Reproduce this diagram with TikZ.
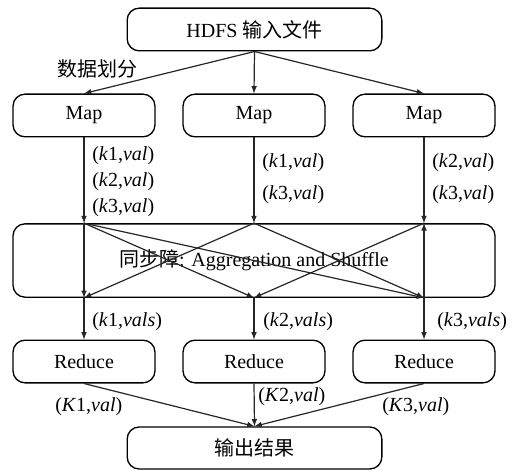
\documentclass[tikz,border=0pt]{standalone}
\usepackage{fontspec}
\setmainfont{Liberation Serif}
\newfontfamily\cjk{Noto Sans CJK SC}
\usepackage{xcolor}
\usepackage{tikz}

\begin{document}
\begin{tikzpicture}[x=0.75pt,y=-0.75pt,font=\fontsize{15}{18}\selectfont]
			\tikzstyle{value} = [inner sep=0pt,anchor=west]
			\tikzstyle{block}=[rectangle,draw,rounded corners=9pt,line width=1pt,minimum width=106.5pt,minimum height=32pt,inner sep=0pt]
			\tikzset{edge/.style = {->,> = latex,draw=black!85,line width=0.9pt}}
			\useasboundingbox (0,0) rectangle (531,470);
			
			\node[block,minimum width=191pt](in) at (254.5,29.5) {HDFS {\cjk 输入文件}};
			\node[block](m1) at (84,115.5) {Map};
			\node[block](m2) at (254,115.5) {Map};
			\node[block](m3) at (424,115.5) {Map};
			\node[block,minimum width=361.5pt,minimum height=55pt](bar) at (254,260.5) {{\cjk 同步障}: Aggregation and Shuffle};
			\node[block](r1) at (84,361.5) {Reduce};
			\node[block](r2) at (254,361.5) {Reduce};
			\node[block](r3) at (424,361.5) {Reduce};
			\node[block,minimum width=191pt,minimum height=31.5pt](out) at (254.5,448) {\cjk 输出结果};
			
			% top and bottom points of the barrier
			\coordinate (t1) at (m1 |- bar.north);
			\coordinate (t2) at (m2 |- bar.north);
			\coordinate (t3) at (m3 |- bar.north);
			\coordinate (b1) at (m1 |- bar.south);
			\coordinate (b2) at (m2 |- bar.south);
			\coordinate (b3) at (m3 |- bar.south);
			
			\node[value](split) at (57,69) {\cjk 数据划分};
			\node[value](v11) at (92,156) {(\textit{k}1,\textit{val})};
			\node[value](v12) at (92,182) {(\textit{k}2,\textit{val})};
			\node[value](v13) at (92,208) {(\textit{k}3,\textit{val})};
			\node[value](v21) at (262,163) {(\textit{k}1,\textit{val})};
			\node[value](v23) at (262,195) {(\textit{k}3,\textit{val})};
			\node[value](v32) at (432,163) {(\textit{k}2,\textit{val})};
			\node[value](v33) at (432,195) {(\textit{k}3,\textit{val})};
			\node[value](s1) at (92,322) {(\textit{k}1,\textit{vals})};
			\node[value](s2) at (263,322) {(\textit{k}2,\textit{vals})};
			\node[value](s3) at (437,322) {(\textit{k}3,\textit{vals})};
			\node[value](o1) at (55,407) {(\textit{K}1,\textit{val})};
			\node[value](o2) at (258,397) {(\textit{K}2,\textit{val})};
			\node[value](o3) at (382,407) {(\textit{K}3,\textit{val})};
			
			\draw[edge] (in.south) to (m1.north);
			\draw[edge] (in.south) to (m2.north);
			\draw[edge] (in.south) to (m3.north);
			
			\draw[edge] (m1.south) to (t1);
			\draw[edge] (m2.south) to (t2);
			\draw[edge] (m3.south) to (t3);
			
			% shuffle inside the barrier
			\draw[edge] (t1) to (b1);
			\draw[edge] (t1) to (b2);
			\draw[edge] (t1) to (b3);
			\draw[edge] (t2) to (b1);
			\draw[edge] (t2) to (b3);
			\draw[edge] (t3) to (b2);
			\draw[edge] (b3) to (t3);
			
			\draw[edge] (b1) to (r1.north);
			\draw[edge] (b2) to (r2.north);
			\draw[edge] (b3) to (r3.north);
			
			\draw[edge] (r1.south) to (out.north);
			\draw[edge] (r2.south) to (out.north);
			\draw[edge] (r3.south) to (out.north);
\end{tikzpicture}
\end{document}
